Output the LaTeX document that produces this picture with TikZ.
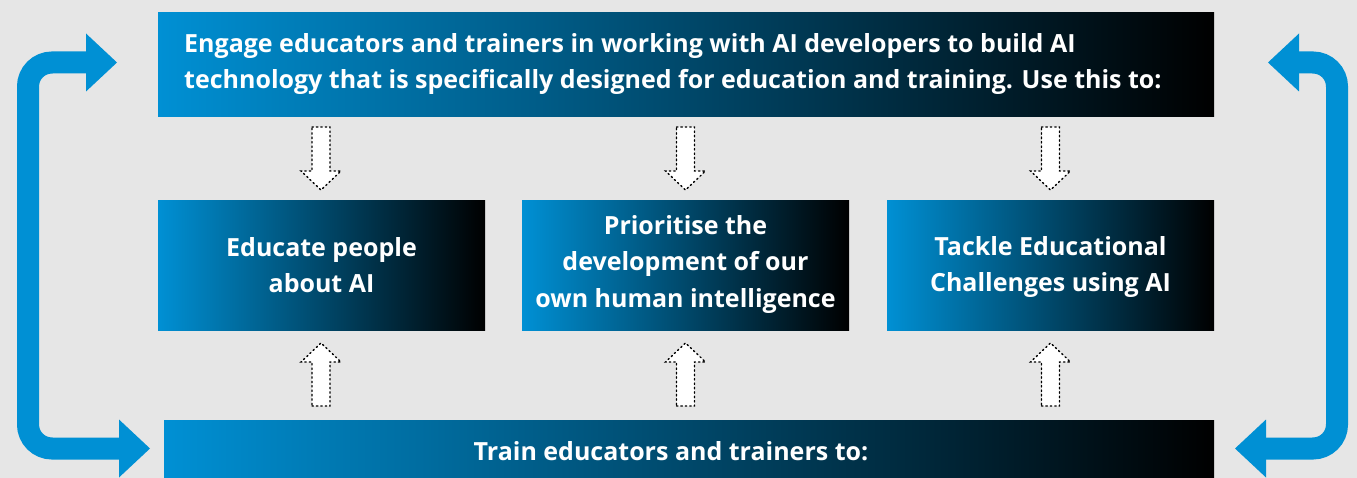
\documentclass[tikz,border=0pt]{standalone}
\usepackage{fontspec}
\setmainfont{Open Sans}
\usetikzlibrary{arrows.meta}
\definecolor{bgc}{RGB}{230,230,230}
\definecolor{bluec}{RGB}{0,144,212}
\tikzset{
  gbox/.style={rectangle, inner sep=0pt, left color=bluec, right color=black, draw=none},
  btext/.style={text=white, font=\fontsize{25}{36.5}\selectfont\bfseries, inner sep=0pt, align=center},
  loop/.style={draw=bluec, line width=22pt, rounded corners=24pt,
    {Triangle[length=31pt,width=58pt,line width=0pt]}-{Triangle[length=31pt,width=58pt,line width=0pt]}},
  dotarrow/.style={draw=black, fill=white, line width=1.4pt, dash pattern=on 1.4pt off 3pt, line cap=round}
}
\newcommand{\downarr}[2]{% center x, name
  \draw[dotarrow] (#1-9,127) -- (#1+9,127) -- (#1+9,171) -- (#1+20,171) -- (#1,190) -- (#1-20,171) -- (#1-9,171) -- cycle;}
\newcommand{\uparr}[2]{%
  \draw[dotarrow] (#1-9,406) -- (#1+9,406) -- (#1+9,362) -- (#1+20,362) -- (#1,343) -- (#1-20,362) -- (#1-9,362) -- cycle;}
\begin{document}
\begin{tikzpicture}[x=1pt,y=-1pt]
\fill[bgc] (0,0) rectangle (1357,478);
\useasboundingbox (0,0) rectangle (1357,478);
% boxes
\node[gbox, minimum width=1056pt, minimum height=104pt] (top) at (686,65) {};
\node[gbox, minimum width=327pt, minimum height=129pt] (m1) at (321.5,265.5) {};
\node[gbox, minimum width=327pt, minimum height=129pt] (m2) at (685.5,265.5) {};
\node[gbox, minimum width=327pt, minimum height=129pt] (m3) at (1050.5,265.5) {};
\node[gbox, minimum width=1050pt, minimum height=58pt] (bot) at (689,449) {};
% texts
\node[btext, anchor=base west, align=left] (toptext) at (184,89) {Engage educators and trainers in working with AI developers to build AI\\technology that is specifically designed for education and training. Use this to:};
\node[btext, anchor=base] (t1) at (321.5,293) {Educate people\\about AI};
\node[btext, anchor=base] (t2) at (685.5,307) {Prioritise the\\development of our\\own human intelligence};
\node[btext, anchor=base] (t3) at (1050.5,292) {Tackle Educational\\Challenges using AI};
\node[btext, anchor=base] (bottext) at (671,460) {Train educators and trainers to:};
% loops
\coordinate (lt) at (117,62.5);
\coordinate (lb) at (150,448.5);
\coordinate (rt) at (1268,62.5);
\coordinate (rb) at (1235,448.5);
\draw[loop] (lt) -- (28,62.5) -- (28,448.5) -- (lb);
\draw[loop] (rt) -- (1337,62.5) -- (1337,448.5) -- (rb);
% dotted arrows
\downarr{321}{d1}
\downarr{685.5}{d2}
\downarr{1050.5}{d3}
\uparr{321}{u1}
\uparr{685.5}{u2}
\uparr{1050.5}{u3}
\end{tikzpicture}
\end{document}
